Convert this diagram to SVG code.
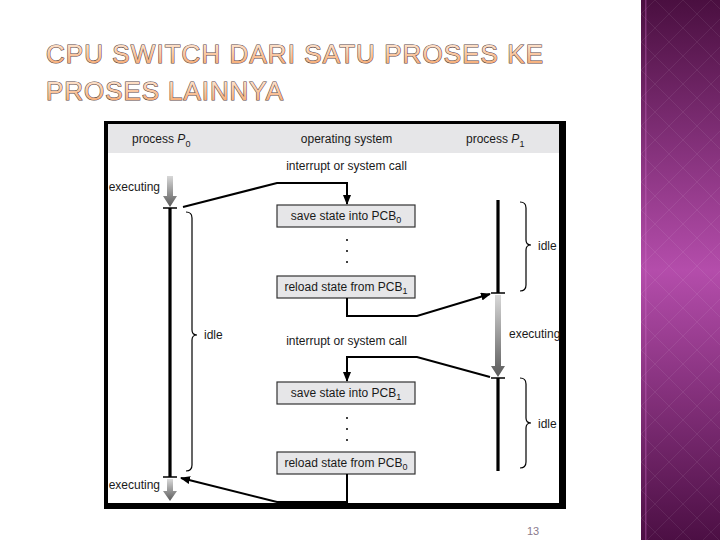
<svg xmlns="http://www.w3.org/2000/svg" width="720" height="540" viewBox="0 0 720 540">
<defs>
<linearGradient id="panel" x1="0" y1="0" x2="0" y2="1">
<stop offset="0" stop-color="#4a0f40"/>
<stop offset="0.5" stop-color="#b44dab"/>
<stop offset="1" stop-color="#4c0f44"/>
</linearGradient>
<pattern id="diam" width="28" height="28" patternUnits="userSpaceOnUse" x="641" y="0">
<path d="M14,0 L28,14 L14,28 L0,14 Z" fill="none" stroke="#ffffff" stroke-opacity="0.07" stroke-width="1"/>
</pattern>
<linearGradient id="titleFill" x1="0" y1="0" x2="0" y2="1">
<stop offset="0" stop-color="#fff0e2"/>
<stop offset="1" stop-color="#f4a062"/>
</linearGradient>
<linearGradient id="gray" x1="0" y1="0" x2="0" y2="1">
<stop offset="0" stop-color="#d8d8d8"/>
<stop offset="1" stop-color="#5a5a5a"/>
</linearGradient>
<marker id="ah" viewBox="0 0 10 8" refX="9" refY="4" markerWidth="10" markerHeight="8" markerUnits="userSpaceOnUse" orient="auto">
<path d="M0,0 L10,4 L0,8 Z" fill="#000"/>
</marker>
<style>
.t{font-family:"Liberation Sans",Arial,sans-serif;font-size:12px;fill:#1a1a1a}
.sub{font-size:9px}
.title{font-family:"Liberation Sans",Arial,sans-serif;font-size:26px;fill:url(#titleFill);stroke:#5a4444;stroke-width:1.1;paint-order:stroke}
.box{fill:#e6e6e8;stroke:#333;stroke-width:1.2}
.conn{fill:none;stroke:#000;stroke-width:2;marker-end:url(#ah)}
.tl{stroke:#000;stroke-width:3.2}
.tick{stroke:#000;stroke-width:1.5}
.brace{fill:none;stroke:#000;stroke-width:1.2}
.garrow{fill:url(#gray)}
</style>
</defs>
<rect x="0" y="0" width="720" height="540" fill="#ffffff"/>
<g id="sidepanel">
<rect x="641" y="0" width="79" height="540" fill="url(#panel)"/>
<rect x="641" y="0" width="79" height="540" fill="url(#diam)"/>
<rect x="645" y="0" width="1.5" height="540" fill="#d070c8" fill-opacity="0.35"/>
</g>
<g id="title">
<text class="title" x="46" y="63" textLength="497" lengthAdjust="spacing">CPU SWITCH DARI SATU PROSES KE</text>
<text class="title" x="46" y="100" textLength="237" lengthAdjust="spacing">PROSES LAINNYA</text>
</g>
<g id="frame">
<rect x="104" y="121" width="462" height="388" fill="#000"/>
<rect x="108" y="124" width="451" height="379" fill="#fff"/>
<rect x="108" y="124" width="451" height="29" fill="#e6e6e8"/>
</g>
<g id="headers">
<text class="t" x="132" y="143">process <tspan font-style="italic">P</tspan><tspan class="sub" dy="4">0</tspan></text>
<text class="t" x="346.5" y="143" text-anchor="middle">operating system</text>
<text class="t" x="466" y="143">process <tspan font-style="italic">P</tspan><tspan class="sub" dy="4">1</tspan></text>
</g>
<g id="p0-timeline">
<path class="garrow" d="M167,176 L173,176 L173,196 L177,196 L170,207 L163,196 L167,196 Z"/>
<line class="tick" x1="163" y1="208" x2="177" y2="208"/>
<line class="tl" x1="170" y1="208" x2="170" y2="477"/>
<line class="tick" x1="163" y1="477" x2="177" y2="477"/>
<path class="garrow" d="M167,479 L173,479 L173,491 L177,491 L170,501 L163,491 L167,491 Z"/>
<text class="t" x="160" y="191" text-anchor="end">executing</text>
<text class="t" x="160" y="489" text-anchor="end">executing</text>
<path class="brace" d="M186,212 Q192,212 192,218 L192,330 Q192,335 197,335 Q192,335 192,340 L192,465 Q192,471 186,471"/>
<text class="t" x="204" y="339">idle</text>
</g>
<g id="p1-timeline">
<line class="tl" x1="498" y1="200" x2="498" y2="293"/>
<line class="tick" x1="491" y1="293" x2="505" y2="293"/>
<path class="garrow" d="M495,295 L501,295 L501,366 L505,366 L498,377 L491,366 L495,366 Z"/>
<line class="tick" x1="491" y1="378" x2="505" y2="378"/>
<line class="tl" x1="498" y1="378" x2="498" y2="471"/>
<text class="t" x="509" y="338">executing</text>
<path class="brace" d="M520,202 Q526,202 526,208 L526,240 Q526,245 531,245 Q526,245 526,250 L526,285 Q526,291 520,291"/>
<text class="t" x="538" y="250">idle</text>
<path class="brace" d="M520,378 Q526,378 526,384 L526,418 Q526,423 531,423 Q526,423 526,428 L526,462 Q526,468 520,468"/>
<text class="t" x="538" y="428">idle</text>
</g>
<g id="os-labels">
<text class="t" x="346.5" y="170" text-anchor="middle">interrupt or system call</text>
<text class="t" x="346.5" y="345" text-anchor="middle">interrupt or system call</text>
</g>
<g id="box-save0">
<rect class="box" x="277" y="205" width="138" height="22"/>
<text class="t" x="346" y="220" text-anchor="middle">save state into PCB<tspan class="sub" dy="3">0</tspan></text>
</g>
<g id="dots1" fill="#000">
<circle cx="347" cy="240" r="1"/><circle cx="347" cy="251" r="1"/><circle cx="347" cy="262" r="1"/>
</g>
<g id="box-reload1">
<rect class="box" x="277" y="276" width="138" height="22"/>
<text class="t" x="346" y="291" text-anchor="middle">reload state from PCB<tspan class="sub" dy="3">1</tspan></text>
</g>
<g id="box-save1">
<rect class="box" x="277" y="382" width="138" height="22"/>
<text class="t" x="346" y="397" text-anchor="middle">save state into PCB<tspan class="sub" dy="3">1</tspan></text>
</g>
<g id="dots2" fill="#000">
<circle cx="347" cy="418" r="1"/><circle cx="347" cy="429" r="1"/><circle cx="347" cy="440" r="1"/>
</g>
<g id="box-reload0">
<rect class="box" x="277" y="452" width="138" height="22"/>
<text class="t" x="346" y="467" text-anchor="middle">reload state from PCB<tspan class="sub" dy="3">0</tspan></text>
</g>
<g id="connectors">
<path class="conn" d="M183,207 L277,183 L347,183 L347,204"/>
<path class="conn" d="M347,298 L347,316 L417,316 L490,294"/>
<path class="conn" d="M490,377 L417,357 L347,357 L347,381"/>
<path class="conn" d="M347,474 L347,502 L277,502 L181,478"/>
</g>
<rect x="104" y="503" width="462" height="6" fill="#000"/>
<text x="533" y="535" text-anchor="middle" font-family="Liberation Sans, Arial, sans-serif" font-size="11" fill="#8a7a8c">13</text>
</svg>
